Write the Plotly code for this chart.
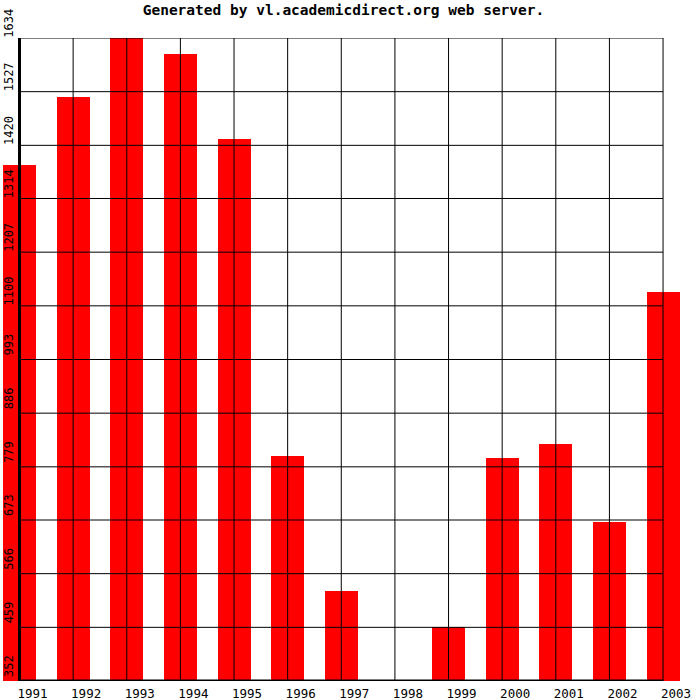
import plotly.graph_objects as go

years = ["1991", "1992", "1993", "1994", "1995", "1996", "1997",
         "1998", "1999", "2000", "2001", "2002", "2003"]
values = [1381, 1516, 1634, 1603, 1432, 800, 532, 352, 460, 797, 825, 670, 1128]
y_ticks = [352, 459, 566, 673, 779, 886, 993, 1100, 1207, 1314, 1420, 1527, 1634]
y_tick_labels = [str(v) for v in y_ticks]

x_pos = list(range(len(years)))
ymin, ymax = y_ticks[0], y_ticks[-1]

fig = go.Figure()
fig.add_trace(go.Bar(
    x=x_pos, y=values, width=0.615,
    marker=dict(color="#ff0000", line=dict(width=0)),
    hoverinfo="x+y",
))

shapes = []
# horizontal grid
for v in y_ticks:
    shapes.append(dict(type="line", xref="x", yref="y", x0=0, x1=len(years) - 1,
                       y0=v, y1=v, line=dict(color="black", width=1), layer="above"))
# vertical grid
for i in x_pos:
    shapes.append(dict(type="line", xref="x", yref="y", x0=i, x1=i,
                       y0=ymin, y1=ymax, line=dict(color="black", width=1), layer="above"))
# thick axes
shapes.append(dict(type="line", xref="x", yref="y", x0=0, x1=0, y0=ymin, y1=ymax,
                   line=dict(color="black", width=3), layer="above"))
shapes.append(dict(type="line", xref="x", yref="y", x0=0, x1=len(years) - 1, y0=ymin, y1=ymin,
                   line=dict(color="black", width=3), layer="above"))

step = 53.63
left_px = 19.5
fig.update_layout(
    width=700, height=700,
    margin=dict(l=0, r=0, t=38, b=19, pad=0, autoexpand=False),
    paper_bgcolor="white", plot_bgcolor="white",
    showlegend=False,
    bargap=0,
    shapes=shapes,
    title=dict(text="Generated by vl.academicdirect.org web server.",
               x=343.5 / 700, xanchor="center", xref="paper",
               y=1 - 10 / 700, yanchor="middle", yref="container",
               font=dict(family="DejaVu Sans Mono", size=14.5, color="black", weight="bold")),
    xaxis=dict(range=[-left_px / step, (700 - left_px) / step], automargin=False,
               tickvals=x_pos, ticktext=years, showgrid=False, zeroline=False,
               showline=False, ticks="", ticklabelshift=13, ticklabelstandoff=3,
               tickfont=dict(family="DejaVu Sans Mono", size=12.5, color="black")),
    yaxis=dict(range=[ymin, ymax], tickvals=y_ticks, ticktext=y_tick_labels, automargin=False,
               showgrid=False, zeroline=False, showline=False, ticks="",
               tickangle=-90, ticklabelposition="inside", ticklabeloverflow="allow",
               ticklabelshift=-13, ticklabelstandoff=-4,
               tickfont=dict(family="DejaVu Sans Mono", size=12, color="black")),
)

fig.write_html("out.html", config={"displayModeBar": False},
               post_script="document.body.style.margin='0px';document.body.style.overflow='hidden';")
